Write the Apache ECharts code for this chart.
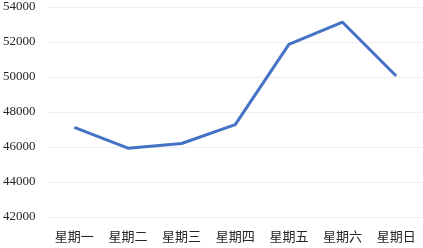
<!DOCTYPE html>
<html><head><meta charset="utf-8">
<script src="https://cdn.jsdelivr.net/npm/echarts@6/dist/echarts.min.js"></script>
<style>html,body{margin:0;padding:0;background:#fff}#c{width:423px;height:248px}</style>
</head><body><div id="c"></div>
<script>
const categories = ['星期一','星期二','星期三','星期四','星期五','星期六','星期日'];
const values = [47120, 45930, 46200, 47280, 51860, 53130, 50060];
const yMin = 42000, yMax = 54000, yInterval = 2000;
const font = '"Liberation Serif", "Noto Sans CJK SC", serif';
const chart = echarts.init(document.getElementById('c'), null, {renderer:'canvas'});
chart.setOption({
  animation: false,
  grid: {left: 47, right: 0, top: 7, bottom: 31, containLabel: false},
  xAxis: {
    type: 'category', data: categories, boundaryGap: true,
    axisLine: {show: false}, axisTick: {show: false},
    axisLabel: {color: '#262626', fontFamily: font, fontSize: 13, margin: 14}
  },
  yAxis: {
    type: 'value', min: yMin, max: yMax, interval: yInterval,
    axisLine: {show: false}, axisTick: {show: false},
    splitLine: {lineStyle: {color: '#eeeeee', width: 1}},
    axisLabel: {color: '#262626', fontFamily: font, fontSize: 13, margin: 12,
      formatter: v => String(v)}
  },
  series: [{
    type: 'line', data: values, symbol: 'none',
    lineStyle: {color: '#4472C4', width: 3}
  }]
});
</script></body></html>
